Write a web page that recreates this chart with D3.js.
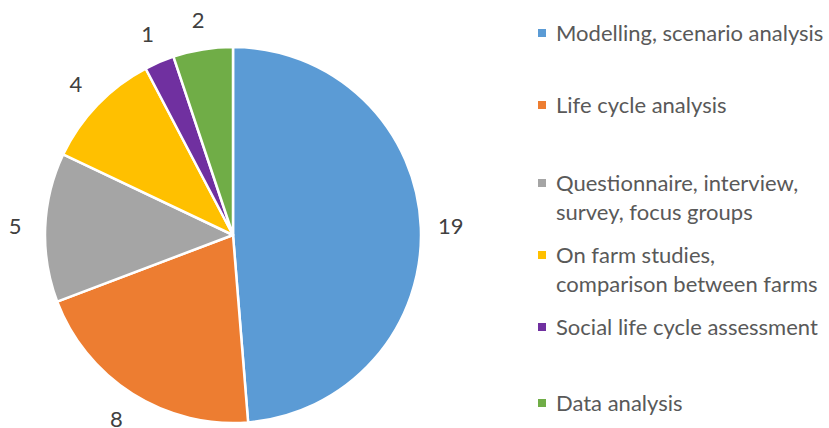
<!DOCTYPE html>
<html>
<head>
<meta charset="utf-8">
<script src="https://cdn.jsdelivr.net/npm/d3@7"></script>
<style>
  body { margin: 0; background: #fff; }
  text { font-family: Lato, "Open Sans", sans-serif; }
</style>
</head>
<body>
<div id="chart"></div>
<script>
// Chart data
const categories = [
  "Modelling, scenario analysis",
  "Life cycle analysis",
  "Questionnaire, interview, survey, focus groups",
  "On farm studies, comparison between farms",
  "Social life cycle assessment",
  "Data analysis"
];
const values = [19, 8, 5, 4, 1, 2];
const colors = ["#5B9BD5", "#ED7D31", "#A5A5A5", "#FFC000", "#7030A0", "#70AD47"];
// legend text broken the way the chart shows it
const legendLines = [
  ["Modelling, scenario analysis"],
  ["Life cycle analysis"],
  ["Questionnaire, interview,", "survey, focus groups"],
  ["On farm studies,", "comparison between farms"],
  ["Social life cycle assessment"],
  ["Data analysis"]
];
const legendRows = [33, 105, 183, 255, 327, 403];

const width = 829;
const height = 428;
const cx = 233, cy = 235, radius = 188;

const svg = d3.select("#chart")
  .append("svg")
    .attr("width", width)
    .attr("height", height);

const data = categories.map((c, i) => ({name: c, value: values[i], color: colors[i]}));

const pie = d3.pie()
  .value(d => d.value)
  .sort(null);

const arc = d3.arc()
  .innerRadius(0)
  .outerRadius(radius);

const labelArc = d3.arc()
  .innerRadius(radius + 30)
  .outerRadius(radius + 30);

const arcs = pie(data);

const g = svg.append("g")
  .attr("transform", `translate(${cx},${cy})`);

g.selectAll("path")
  .data(arcs)
  .join("path")
    .attr("d", arc)
    .attr("fill", d => d.data.color)
    .attr("stroke", "#fff")
    .attr("stroke-width", 2.5)
    .attr("stroke-linejoin", "round");

g.selectAll("text.val")
  .data(arcs)
  .join("text")
    .attr("class", "val")
    .attr("transform", d => `translate(${labelArc.centroid(d)})`)
    .attr("text-anchor", "middle")
    .attr("dy", "0.35em")
    .attr("fill", "#404040")
    .attr("font-size", 22)
    .text(d => d.data.value);

// Legend
const legend = svg.append("g");
const item = legend.selectAll("g")
  .data(data)
  .join("g")
    .attr("transform", (d, i) => `translate(538,${legendRows[i]})`);

item.append("rect")
  .attr("x", 0)
  .attr("y", -4)
  .attr("width", 8)
  .attr("height", 8)
  .attr("fill", d => d.color);

item.append("text")
  .attr("fill", "#595959")
  .attr("font-size", 22)
  .selectAll("tspan")
  .data((d, i) => legendLines[i])
  .join("tspan")
    .attr("x", 18)
    .attr("y", (d, j) => j * 29)
    .attr("dy", "0.35em")
    .text(d => d);
</script>
</body>
</html>
